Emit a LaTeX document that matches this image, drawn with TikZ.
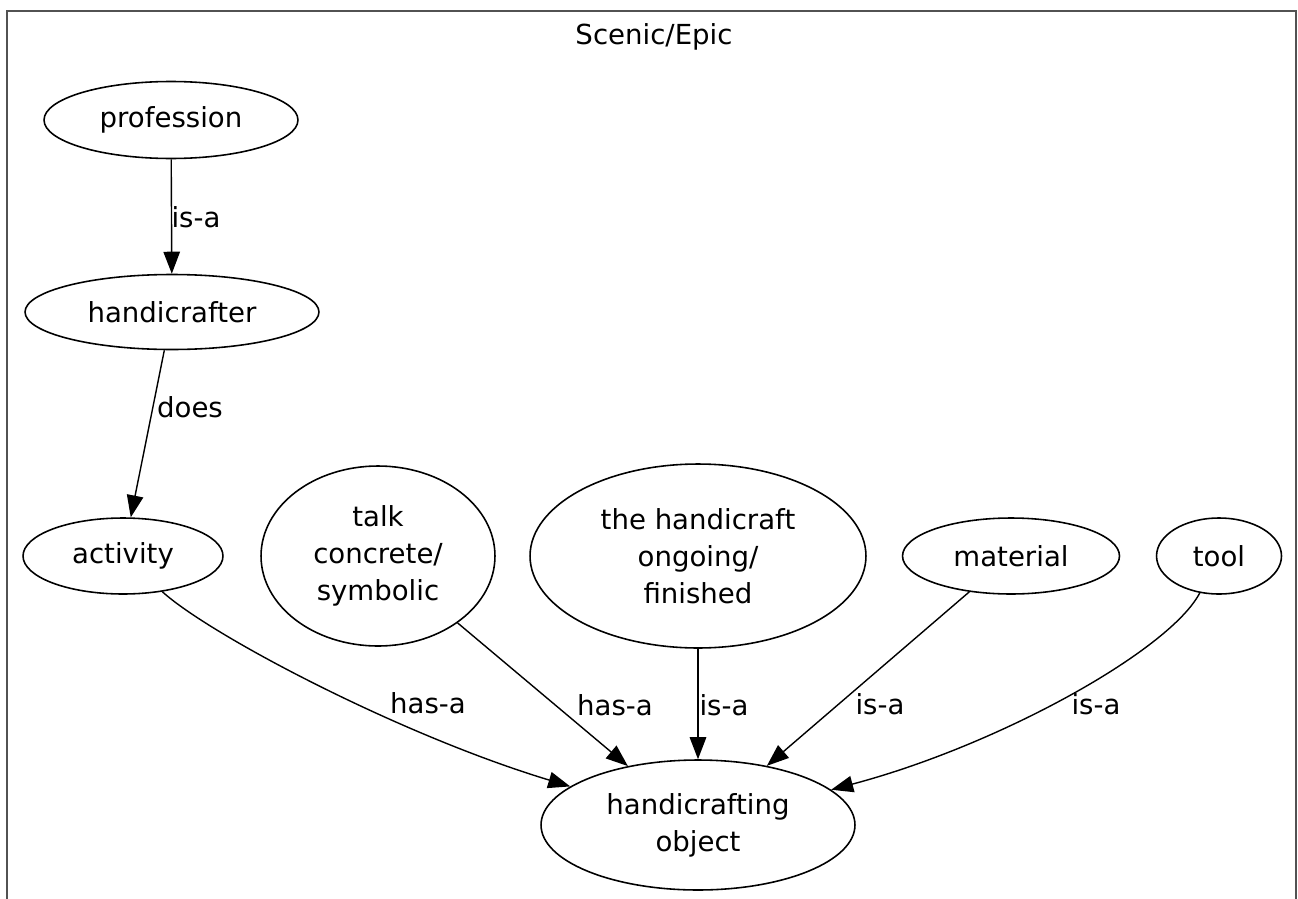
\documentclass[tikz,border=0pt]{standalone}
\usepackage{fontspec}
\setmainfont{DejaVu Sans}
\usetikzlibrary{arrows.meta,positioning,shapes.geometric}

\begin{document}
\begin{tikzpicture}[x=0.02cm,y=-0.02cm,font=\fontsize{15.7}{21}\selectfont,
  concept/.style={ellipse,draw,line width=0.9pt,inner sep=0pt,align=center},
  rel/.style={-{Triangle[length=4.4mm,width=3.3mm]},line width=0.8pt},
  lbl/.style={inner sep=0pt}]
\useasboundingbox (0,0) rectangle (1298,899);
%% cluster frame (open at the bottom)
\draw[black!68,line width=1.5pt] (7,899) -- (7,11) -- (1296,11) -- (1296,899);
\node[lbl] (title) at (654,37) {Scenic/Epic};
%% concepts
\node[concept,minimum width=5.08cm,minimum height=1.54cm] (profession) at (171,120) {profession};
\node[concept,minimum width=5.88cm,minimum height=1.5cm] (handicrafter) at (172,312) {handicrafter};
\node[concept,minimum width=4.0cm,minimum height=1.52cm] (activity) at (123,556) {activity};
\node[concept,minimum width=4.68cm,minimum height=3.6cm] (talk) at (378,556) {talk\\concrete/\\symbolic};
\node[concept,minimum width=6.72cm,minimum height=3.68cm] (handicraft) at (698,556) {the handicraft\\ongoing/\\finished};
\node[concept,minimum width=4.34cm,minimum height=1.52cm] (material) at (1011,556) {material};
\node[concept,minimum width=2.5cm,minimum height=1.52cm] (tool) at (1219,556) {tool};
\node[concept,minimum width=6.28cm,minimum height=2.6cm] (object) at (698,825) {handicrafting\\object};
%% relations
\draw[rel] (profession) -- (handicrafter);
\node[lbl] (isa1) at (196,217) {is-a};
\draw[rel] (handicrafter) -- (activity);
\node[lbl] (does) at (190,407) {does};
\draw[rel] (activity) .. controls (210,635) and (400,735) .. (object);
\node[lbl] (hasa1) at (428,703) {has-a};
\draw[rel] (talk) -- (object);
\node[lbl] (hasa2) at (615,705) {has-a};
\draw[rel] (handicraft) -- (object);
\node[lbl] (isa2) at (724,705) {is-a};
\draw[rel] (material) -- (object);
\node[lbl] (isa3) at (880,704) {is-a};
\draw[rel] (tool) .. controls (1170,650) and (1000,745) .. (object);
\node[lbl] (isa4) at (1096,704) {is-a};
\end{tikzpicture}
\end{document}
